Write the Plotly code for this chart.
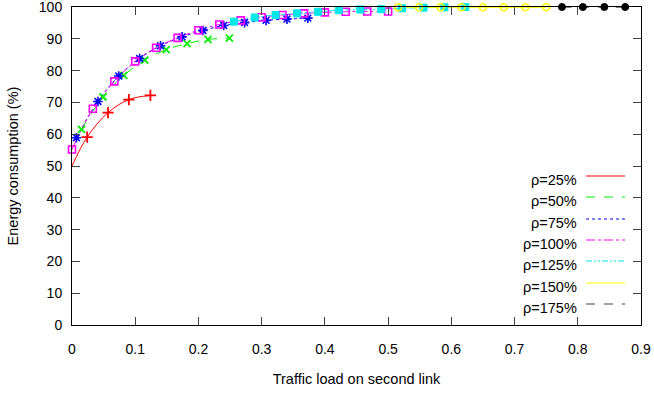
import plotly.graph_objects as go

# ---- data ----
red_x = [0.0, 0.024, 0.057, 0.090, 0.124]
red_y = [50.0, 59.1, 66.8, 70.9, 72.2]

green_x = [0.015, 0.049, 0.082, 0.115, 0.149, 0.182, 0.215, 0.249]
green_y = [61.5, 71.7, 78.5, 83.3, 86.6, 88.5, 89.8, 90.2]

blue_x = [0.007, 0.041, 0.074, 0.107, 0.140, 0.174, 0.207, 0.240, 0.273, 0.307, 0.340, 0.373]
blue_y = [58.9, 70.3, 78.3, 83.8, 87.8, 90.6, 92.6, 94.2, 95.1, 95.8, 96.2, 96.5]

mag_x = [0.0, 0.033, 0.067, 0.100, 0.133, 0.167, 0.200, 0.233, 0.267, 0.300, 0.333, 0.367, 0.400, 0.433, 0.467, 0.500]
mag_y = [55.2, 68.0, 76.6, 82.9, 87.2, 90.3, 92.7, 94.5, 95.8, 96.8, 97.5, 98.0, 98.3, 98.5, 98.6, 98.6]

cyan_x = [0.256, 0.289, 0.322, 0.356, 0.389, 0.422, 0.456, 0.489, 0.522, 0.556, 0.589, 0.622]
cyan_y = [95.4, 96.7, 97.5, 98.0, 98.5, 99.0, 99.2, 99.3, 99.6, 99.8, 99.9, 100.0]

yel_x = [0.516, 0.549, 0.583, 0.616, 0.650, 0.683, 0.717, 0.750]
yel_y = [99.9, 99.9, 99.9, 99.9, 99.9, 99.9, 99.9, 99.9]

blk_x = [0.775, 0.808, 0.842, 0.875]
blk_y = [100.0, 100.0, 100.0, 100.0]

labels = ["ρ=25%", "ρ=50%", "ρ=75%", "ρ=100%", "ρ=125%", "ρ=150%", "ρ=175%"]

x_ticks = [0, 0.1, 0.2, 0.3, 0.4, 0.5, 0.6, 0.7, 0.8, 0.9]
x_tick_text = ["0", "0.1", "0.2", "0.3", "0.4", "0.5", "0.6", "0.7", "0.8", "0.9"]
y_ticks = [0, 10, 20, 30, 40, 50, 60, 70, 80, 90, 100]

# ---- styles ----
series = [
    (red_x, red_y, "#ff0000", "solid", "cross-thin", 8, 1, 1.8),
    (green_x, green_y, "#00ee00", "dash", "x-thin", 7, 0, 1.8),
    (blue_x, blue_y, "#0000ff", "dot", "asterisk", 8, 0, 1.6),
    (mag_x, mag_y, "#ff00ff", "dashdot", "square-open", 7, 0, 1.6),
    (cyan_x, cyan_y, "#00e8e8", "6px,2px,2px,2px,2px,2px", "square", 7, 0, 1),
    (yel_x, yel_y, "#ffff00", "solid", "circle-open", 7, 0, 1.6),
    (blk_x, blk_y, "#000000", "dash", "circle", 7, 0, 1),
]

FONT = "Liberation Sans, Arial, sans-serif"

fig = go.Figure()
for xs, ys, col, dash, sym, size, skip, lw in series:
    fig.add_trace(go.Scatter(
        x=xs, y=ys, mode="lines", line=dict(color=col, width=1, dash=dash, shape="spline"),
        showlegend=False, hoverinfo="skip", cliponaxis=False))
for xs, ys, col, dash, sym, size, skip, lw in series:
    mk = dict(symbol=sym, size=size, color=col, line=dict(color=col, width=lw))
    fig.add_trace(go.Scatter(
        x=xs[skip:], y=ys[skip:], mode="markers", marker=mk, showlegend=False, cliponaxis=False))

# ---- manual legend (text left, sample line right) ----
W, H = 569.0, 318.0
leg_line_py = [176, 197, 219, 240, 261, 283, 304]
legend_colors = ["#ff0000", "#00ee00", "#0000ff", "#ff00ff", "#00e8e8", "#ffff00", "#000000"]
legend_dash = ["solid", "dash", "dot", "dashdot", "6px,2px,2px,2px,2px,2px", "solid", "dash"]
for lab, py, col, dash in zip(labels, leg_line_py, legend_colors, legend_dash):
    yp = (325 - py) / H
    fig.add_annotation(x=(579 - 72) / W, y=(325 - py - 4) / H, xref="paper", yref="paper",
                       text=lab, showarrow=False, xanchor="right", yanchor="middle",
                       font=dict(family=FONT, size=14.5, color="#000"))
    fig.add_shape(type="line", xref="paper", yref="paper",
                  x0=(586 - 72) / W, x1=(625 - 72) / W, y0=yp, y1=yp,
                  line=dict(color=col if col != "#000000" else "#444", width=1.2, dash=dash))

axis_common = dict(showgrid=False, zeroline=False, showline=True, linecolor="#000", linewidth=1,
                   mirror="allticks", ticks="inside", ticklen=8, tickcolor="#444",
                   automargin=False, ticklabeloverflow="allow",
                   tickfont=dict(family=FONT, size=14, color="#000"))

fig.update_layout(
    width=654, height=394,
    margin=dict(l=72, r=13, t=7, b=69),
    paper_bgcolor="white", plot_bgcolor="white",
    font=dict(family=FONT, size=14, color="#000"),
    xaxis=dict(range=[0, 0.9], tickvals=x_ticks, ticktext=x_tick_text, ticklabelstandoff=11,
               title=dict(text="Traffic load on second link", standoff=18, font=dict(size=14.5)),
               **axis_common),
    yaxis=dict(range=[0, 100], tickvals=y_ticks, ticklabelstandoff=6,
               title=dict(text="Energy consumption (%)", standoff=16, font=dict(size=14.5)),
               **axis_common),
)

fig.write_html("out.html", config={"displayModeBar": False},
               post_script="document.body.style.margin='0';")
